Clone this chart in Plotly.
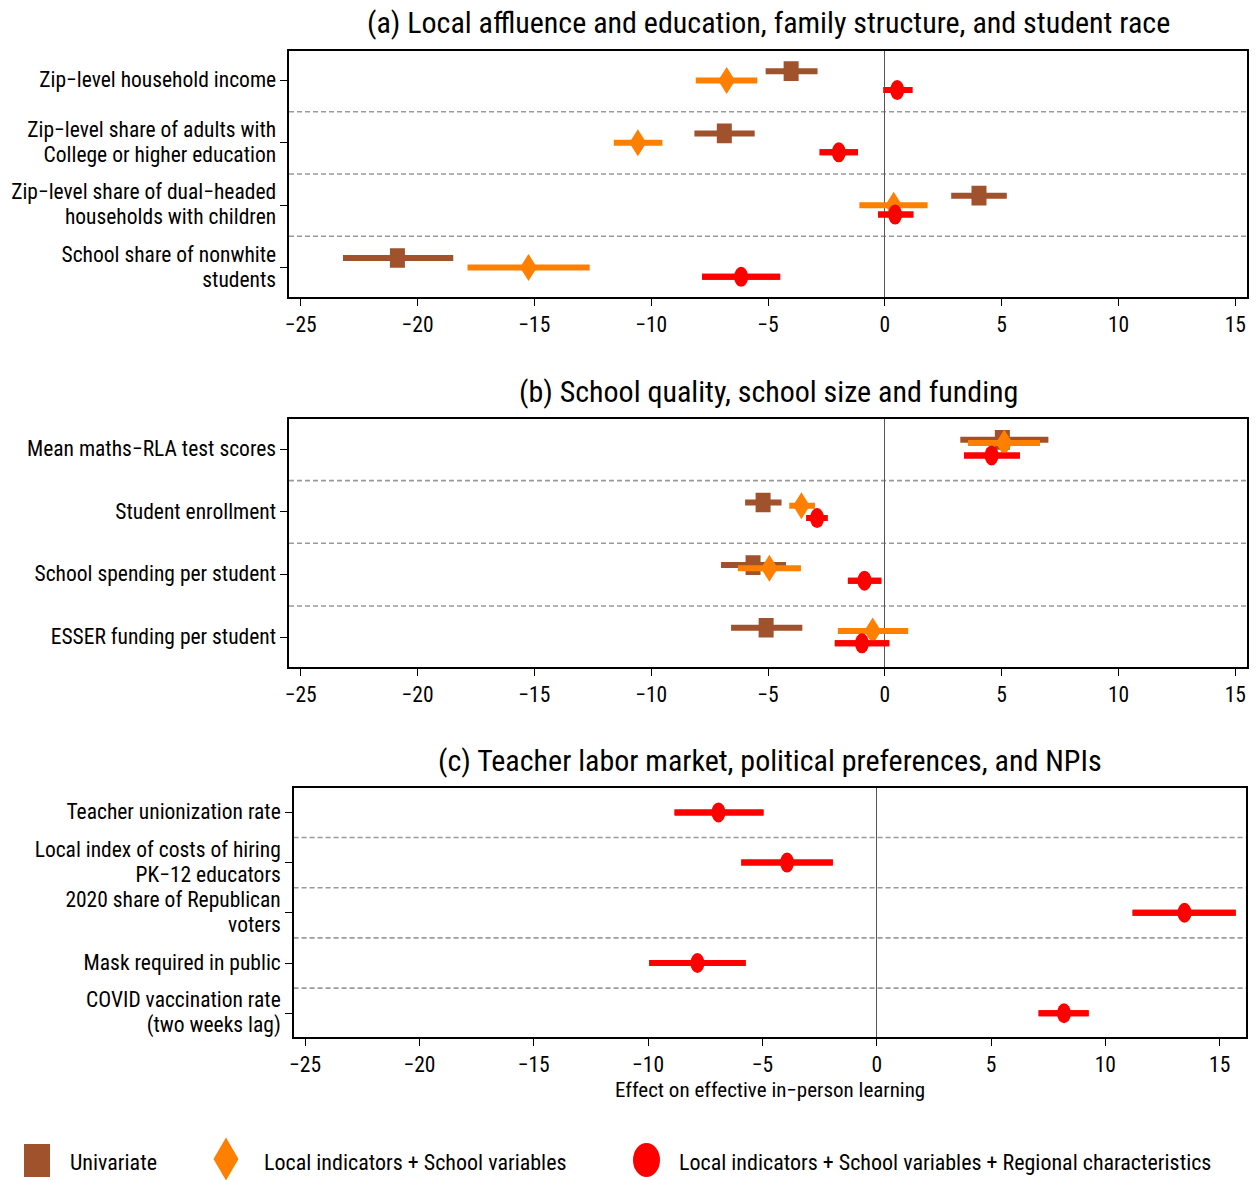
import plotly.graph_objects as go

FONT = "Roboto Condensed, Liberation Sans Narrow, Arial Narrow, sans-serif"
BROWN = "#A0522D"
ORANGE = "#FF8000"
RED = "#FF0000"
W, H = 1258, 1180

# ---- Panel (a): local affluence, education, family structure, race ----
a_labels = [
    ["Zip−level household income"],
    ["Zip−level share of adults with", "College or higher education"],
    ["Zip−level share of dual−headed", "households with children"],
    ["School share of nonwhite", "students"],
]
a_uni = [-4.01, -6.87, 4.03, -20.86]
a_uni_lo = [-5.10, -8.15, 2.84, -23.19]
a_uni_hi = [-2.88, -5.57, 5.22, -18.47]
a_loc = [-6.77, -10.57, 0.38, -15.25]
a_loc_lo = [-8.09, -11.60, -1.09, -17.86]
a_loc_hi = [-5.46, -9.52, 1.83, -12.63]
a_reg = [0.53, -1.97, 0.44, -6.15]
a_reg_lo = [-0.06, -2.79, -0.29, -7.82]
a_reg_hi = [1.18, -1.15, 1.22, -4.48]

# ---- Panel (b): school quality, size and funding ----
b_labels = [
    ["Mean maths−RLA test scores"],
    ["Student enrollment"],
    ["School spending per student"],
    ["ESSER funding per student"],
]
b_uni = [5.03, -5.21, -5.64, -5.08]
b_uni_lo = [3.23, -5.98, -7.01, -6.58]
b_uni_hi = [7.00, -4.42, -4.23, -3.53]
b_loc = [5.11, -3.57, -4.94, -0.52]
b_loc_lo = [3.56, -4.09, -6.29, -2.01]
b_loc_hi = [6.64, -2.99, -3.59, 1.00]
b_reg = [4.57, -2.90, -0.87, -0.98]
b_reg_lo = [3.39, -3.36, -1.58, -2.14]
b_reg_hi = [5.78, -2.45, -0.15, 0.19]

# ---- Panel (c): teacher labor market, politics, NPIs ----
c_labels = [
    ["Teacher unionization rate"],
    ["Local index of costs of hiring", "PK−12 educators"],
    ["2020 share of Republican", "voters"],
    ["Mask required in public"],
    ["COVID vaccination rate", "(two weeks lag)"],
]
c_reg = [-6.92, -3.92, 13.46, -7.84, 8.19]
c_reg_lo = [-8.84, -5.92, 11.19, -9.95, 7.08]
c_reg_hi = [-4.95, -1.92, 15.70, -5.73, 9.27]

titles = [
    "(a) Local affluence and education, family structure, and student race",
    "(b) School quality, school size and funding",
    "(c) Teacher labor market, political preferences, and NPIs",
]
x_ticks = [-25, -20, -15, -10, -5, 0, 5, 10, 15]
legend_names = [
    "Univariate",
    "Local indicators + School variables",
    "Local indicators + School variables + Regional characteristics",
]

# panel boxes in pixels: left, right, top, bottom
boxes = [(289, 1247, 50.7, 297.3), (289, 1247, 419.3, 667.3), (293.6, 1246, 788.3, 1037.3)]
x_ranges = [[-25.5, 15.5], [-25.5, 15.5], [-25.5, 16.15]]

panels = [
    dict(labels=a_labels, series=[
        (a_uni, a_uni_lo, a_uni_hi, BROWN, "uni", -0.152),
        (a_loc, a_loc_lo, a_loc_hi, ORANGE, "loc", 0.0),
        (a_reg, a_reg_lo, a_reg_hi, RED, "reg", 0.152)]),
    dict(labels=b_labels, series=[
        (b_uni, b_uni_lo, b_uni_hi, BROWN, "uni", -0.152),
        (b_loc, b_loc_lo, b_loc_hi, ORANGE, "loc", -0.10),
        (b_reg, b_reg_lo, b_reg_hi, RED, "reg", 0.097)]),
    dict(labels=c_labels, series=[
        (c_reg, c_reg_lo, c_reg_hi, RED, "reg", 0.0)]),
]

TICK_SIZE = 21.5
# the outer size sets the spacing between wrapped label lines
LABEL_LINE_SIZE = 19.2


def label_text(lines):
    return "<br>".join(f"<span style='font-size:{TICK_SIZE}px'>{s}</span>" for s in lines)


fig = go.Figure()
shapes = []
annotations = []


def px_x(p):
    return p / W


def px_y(p):
    return 1 - p / H


for k, panel in enumerate(panels):
    n = len(panel["labels"])
    xa = "x" if k == 0 else f"x{k + 1}"
    ya = "y" if k == 0 else f"y{k + 1}"
    left, right, top, bottom = boxes[k]
    ax_key = "" if k == 0 else str(k + 1)
    fig.layout[f"xaxis{ax_key}"] = dict(
        domain=[px_x(left), px_x(right)], anchor=ya, range=x_ranges[k], automargin=False,
        tickmode="array", tickvals=x_ticks, ticks="outside", ticklen=7, tickwidth=1,
        tickcolor="black", showline=True, mirror=True, linecolor="black", linewidth=2,
        showgrid=False, zeroline=True, zerolinecolor="#555555", zerolinewidth=1,
        tickfont=dict(family=FONT, size=TICK_SIZE, color="black"),
    )
    fig.layout[f"yaxis{ax_key}"] = dict(
        domain=[px_y(bottom), px_y(top)], anchor=xa, range=[n + 0.48, 0.52],
        automargin=False,
        tickmode="array", tickvals=list(range(1, n + 1)),
        ticktext=[label_text(lines) for lines in panel["labels"]],
        ticks="outside", ticklen=7, tickwidth=1, tickcolor="black",
        showline=True, mirror=True, linecolor="black", linewidth=2,
        showgrid=False, zeroline=False,
        tickfont=dict(family=FONT, size=LABEL_LINE_SIZE, color="black"),
    )
    # dashed separators between categories
    for i in range(1, n):
        shapes.append(dict(type="line", xref=f"{xa} domain", yref=ya, x0=0, x1=1,
                           y0=i + 0.5, y1=i + 0.5, layer="below",
                           line=dict(color="#9a9a9a", width=1.6, dash="5px,3px")))
    pos = list(range(1, n + 1))
    overlay = []
    for est, lo, hi, color, kind, off in panel["series"]:
        yv = [p + off for p in pos]
        err_plus = [h - e for e, h in zip(est, hi)]
        err_minus = [e - l for e, l in zip(est, lo)]
        if kind == "uni":
            marker = dict(symbol="line-ns", size=14, color=color,
                          line=dict(color=color, width=15))
        else:
            marker = dict(size=2, color="rgba(0,0,0,0)")
        fig.add_trace(go.Scatter(
            x=est, y=yv, xaxis=xa, yaxis=ya, mode="markers", marker=marker,
            showlegend=False, hoverinfo="x+y",
            error_x=dict(type="data", symmetric=False, array=err_plus,
                         arrayminus=err_minus, thickness=6, width=0, color=color),
        ))
        for e, l, h, y in zip(est, lo, hi, yv):
            if kind == "loc":
                overlay.append(dict(type="path", xref=xa, yref=ya, xsizemode="pixel",
                                    ysizemode="pixel", xanchor=e, yanchor=y,
                                    path="M0,13.5 L8.5,0 L0,-13.5 L-8.5,0 Z",
                                    fillcolor=color, line=dict(width=0), layer="above"))
            elif kind == "reg":
                overlay.append(dict(type="line", xref=xa, yref=ya, x0=l, x1=h, y0=y, y1=y,
                                    line=dict(color=color, width=6), layer="above"))
                overlay.append(dict(type="circle", xref=xa, yref=ya, xsizemode="pixel",
                                    ysizemode="pixel", xanchor=e, yanchor=y,
                                    x0=-7, x1=7, y0=-10, y1=10,
                                    fillcolor=color, line=dict(width=0), layer="above"))
    shapes.extend(overlay)
    annotations.append(dict(text=titles[k], xref="paper", yref="paper",
                            x=px_x((left + right) / 2), y=px_y(top - 28),
                            xanchor="center", yanchor="middle", showarrow=False,
                            font=dict(family=FONT, size=30, color="black")))

annotations.append(dict(text="Effect on effective in−person learning", xref="paper",
                        yref="paper", x=px_x(770), y=px_y(1090), xanchor="center",
                        yanchor="middle", showarrow=False,
                        font=dict(family=FONT, size=21, color="black")))

# hand-built legend along the bottom
shapes.append(dict(type="rect", xref="paper", yref="paper", x0=px_x(24), x1=px_x(50),
                   y0=px_y(1177), y1=px_y(1144), fillcolor=BROWN, line=dict(width=0)))
shapes.append(dict(type="path", xref="paper", yref="paper", xsizemode="pixel",
                   ysizemode="pixel", xanchor=px_x(226), yanchor=px_y(1159),
                   path="M0,21.5 L12.5,0 L0,-21.5 L-12.5,0 Z", fillcolor=ORANGE,
                   line=dict(width=0)))
shapes.append(dict(type="circle", xref="paper", yref="paper", x0=px_x(633), x1=px_x(660),
                   y0=px_y(1177), y1=px_y(1143), fillcolor=RED, line=dict(width=0)))
for name, xl in zip(legend_names, [68, 262, 677]):
    annotations.append(dict(text=name, xref="paper", yref="paper", x=px_x(xl),
                            y=px_y(1162), xanchor="left", yanchor="middle",
                            showarrow=False,
                            font=dict(family=FONT, size=22, color="black")))

fig.update_layout(
    width=W, height=H, margin=dict(l=0, r=0, t=0, b=0),
    paper_bgcolor="white", plot_bgcolor="white",
    shapes=shapes, annotations=annotations, showlegend=False,
    font=dict(family=FONT, color="black"),
)

fig.write_html("out.html")
